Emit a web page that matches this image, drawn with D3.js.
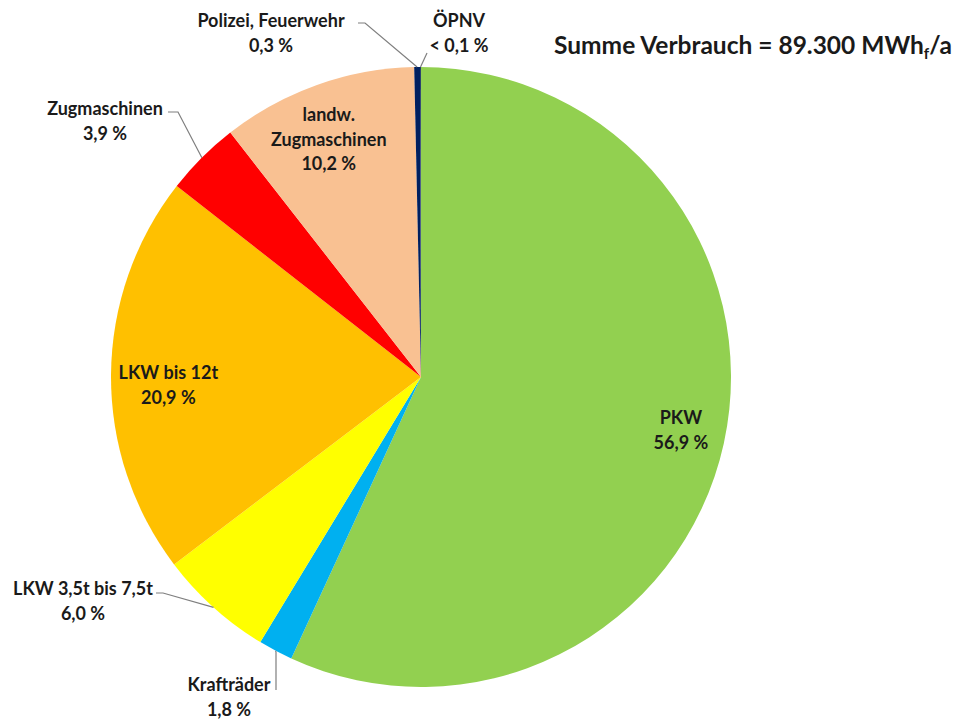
<!DOCTYPE html>
<html><head><meta charset="utf-8">
<script src="https://cdn.jsdelivr.net/npm/d3@7"></script>
<style>
html,body{margin:0;padding:0;background:#fff;}
text{font-family:Lato,"Open Sans",sans-serif;font-weight:bold;fill:#1a1a1a;}
</style></head>
<body><svg id="c" width="962" height="722"></svg>
<script>
// ---- data ----
const categories = ["PKW","Krafträder","LKW 3,5t bis 7,5t","LKW bis 12t","Zugmaschinen","landw. Zugmaschinen","Polizei, Feuerwehr","ÖPNV"];
const shares = [56.9, 1.8, 6.0, 20.9, 3.9, 10.2, 0.3, 0.05];
const shareLabels = ["56,9 %","1,8 %","6,0 %","20,9 %","3,9 %","10,2 %","0,3 %","< 0,1 %"];
const nameLines = [["PKW"],["Krafträder"],["LKW 3,5t bis 7,5t"],["LKW bis 12t"],["Zugmaschinen"],["landw.","Zugmaschinen"],["Polizei, Feuerwehr"],["ÖPNV"]];
const colors = ["#92D050","#00B0F0","#FFFF00","#FFC000","#FF0000","#F9C192","#002060","#1F3864"];
const titleMain = "Summe Verbrauch = 89.300 MWh";
const titleSub = "f";
const titleEnd = "/a";

// ---- layout ----
const svg = d3.select("#c");
const cx = 421, cy = 377, R = 310;
const g = svg.append("g").attr("transform",`translate(${cx},${cy})`);
const pie = d3.pie().sort(null).value(d=>d.v);
const arcs = pie(shares.map((v,i)=>({v,i})));
const arc = d3.arc().innerRadius(0).outerRadius(R);

g.selectAll("path.s").data(arcs).enter().append("path")
  .attr("class","s").attr("d",arc).attr("fill",d=>colors[d.data.i]);

const fs = 18, lh = 24.5;
const layout = {
  0:{type:"in", rf:0.865, dx:-2, dy:-4},
  3:{type:"in", rf:0.815, dy:10},
  5:{type:"in", rf:0.80, dx:-9, dy:-4},
  4:{type:"out", tx:105, ty:109, elbow:[178,112], end:[168,112]},
  2:{type:"out", tx:83, ty:589, elbow:[163,593], end:[156,593]},
  1:{type:"out", tx:229, ty:685, elbow:[276,652], end:[276,690]},
  6:{type:"out", tx:271, ty:21, elbow:[365,23], end:[358,23]},
  7:{type:"out", tx:459, ty:21, elbow:[427,53], end:[427,53]}
};

arcs.forEach(d=>{
  const i = d.data.i, L = layout[i];
  const mid = (d.startAngle+d.endAngle)/2;
  const lines = nameLines[i].concat([shareLabels[i]]);
  if (L.type==="in"){
    const x = cx + Math.sin(mid)*R*L.rf + (L.dx||0);
    const y = cy - Math.cos(mid)*R*L.rf + (L.dy||0);
    const y0 = y - (lines.length-1)*lh/2;
    lines.forEach((t,k)=>{
      svg.append("text").attr("x",x).attr("y",y0+k*lh).attr("dy","0.35em")
        .attr("text-anchor","middle").attr("font-size",fs).text(t);
    });
  } else {
    const ex = cx + Math.sin(mid)*R, ey = cy - Math.cos(mid)*R;
    svg.append("polyline")
      .attr("points",`${ex},${ey} ${L.elbow[0]},${L.elbow[1]} ${L.end[0]},${L.end[1]}`)
      .attr("fill","none").attr("stroke","#7f7f7f").attr("stroke-width",1.2);
    lines.forEach((t,k)=>{
      svg.append("text").attr("x",L.tx).attr("y",L.ty+k*lh).attr("dy","0.35em")
        .attr("text-anchor","middle").attr("font-size",fs).text(t);
    });
  }
});

// title
const tt = svg.append("text").attr("x",952).attr("y",54).attr("text-anchor","end")
  .attr("font-size",24.5);
tt.append("tspan").text(titleMain);
tt.append("tspan").attr("font-size",15).attr("dy",5).text(titleSub);
tt.append("tspan").attr("dy",-5).text(titleEnd);
</script>
</body></html>
